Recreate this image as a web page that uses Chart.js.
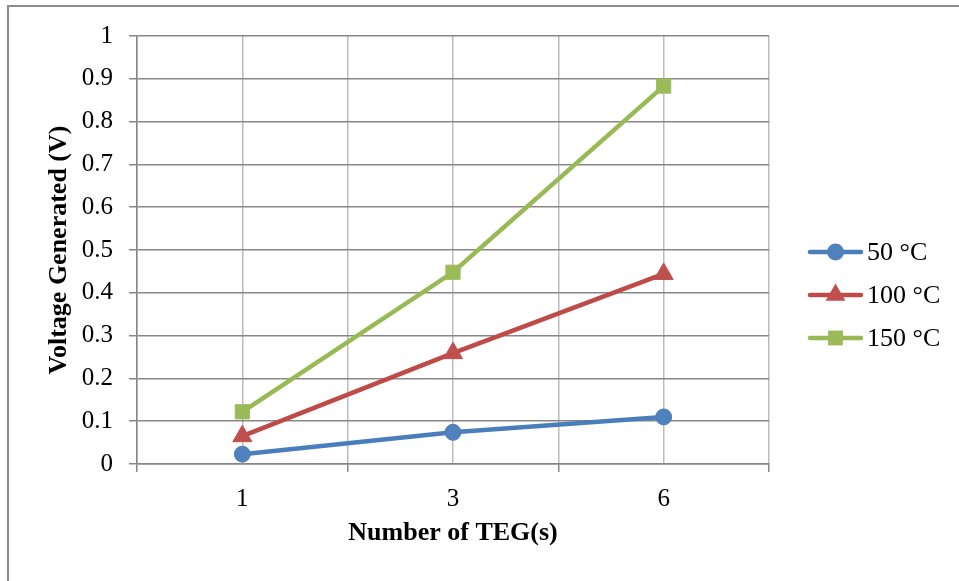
<!DOCTYPE html>
<html lang="en">
<head>
<meta charset="utf-8">
<title>Voltage Generated</title>
<style>
  body { margin: 0; background: #ffffff; }
  canvas { display: block; }
</style>
</head>
<body>
<canvas id="myChart" width="959" height="581"></canvas>

<script src="https://cdn.jsdelivr.net/npm/chart.js@4.4.0/dist/chart.umd.min.js"></script>
<script>
// categories on the x axis (number of TEGs)
var tegCounts = ['1', '3', '6'];

// series names and values (V)
var seriesNames = ['50 °C', '100 °C', '150 °C'];
var volts50 = [0.023, 0.074, 0.110];
var volts100 = [0.065, 0.259, 0.444];
var volts150 = [0.122, 0.448, 0.883];

// y axis ticks
var yMin = 0;
var yMax = 1;
var yStep = 0.1;

var lineColors = ['#4a7ebb', '#be4b48', '#98b954'];
var markerColors = ['#4f81bd', '#c0504d', '#9bbb59'];
var markerStyles = ['circle', 'triangle', 'rect'];
var markerSizes = [8, 11, 10];

var serif = '"Liberation Serif", "Times New Roman", serif';

function makeSet(i, values) {
    return {
        label: seriesNames[i],
        data: values,
        xAxisID: 'x',
        borderColor: lineColors[i],
        backgroundColor: markerColors[i],
        borderWidth: 4.5,
        pointStyle: markerStyles[i],
        pointRadius: markerSizes[i],
        pointBorderWidth: 1,
        pointBorderColor: markerColors[i],
        pointBackgroundColor: markerColors[i],
        tension: 0,
        order: 2 - i
    };
}

// draw a marker for the legend (same shapes as chart.js uses)
function drawMarker(ctx, style, r, x, y, color) {
    ctx.fillStyle = color;
    ctx.beginPath();
    if (style === 'circle') {
        ctx.arc(x, y, r, 0, Math.PI * 2);
    } else if (style === 'triangle') {
        ctx.moveTo(x, y - r);
        ctx.lineTo(x + r * 0.866, y + r * 0.5);
        ctx.lineTo(x - r * 0.866, y + r * 0.5);
        ctx.closePath();
    } else {
        var s = r * Math.SQRT1_2;
        ctx.rect(x - s, y - s, 2 * s, 2 * s);
    }
    ctx.fill();
}

const frameAndLegend = {
    id: 'frameAndLegend',
    beforeDraw(chart) {
        const ctx = chart.ctx;
        ctx.save();
        ctx.fillStyle = '#ffffff';
        ctx.fillRect(0, 0, chart.width, chart.height);
        ctx.strokeStyle = '#8c8c8c';
        ctx.lineWidth = 2;
        ctx.strokeRect(8, 6, 1200, 1200);
        ctx.restore();
    },
    afterDraw(chart) {
        const ctx = chart.ctx;
        ctx.save();
        for (var i = 0; i < seriesNames.length; i++) {
            var y = 252 + i * 43;
            ctx.strokeStyle = lineColors[i];
            ctx.lineWidth = 4.5;
            ctx.lineCap = 'round';
            ctx.beginPath();
            ctx.moveTo(810, y);
            ctx.lineTo(861, y);
            ctx.stroke();
            drawMarker(ctx, markerStyles[i], markerSizes[i] + 0.5, 835.5, y, markerColors[i]);
            ctx.fillStyle = '#000000';
            ctx.font = '26px ' + serif;
            ctx.textBaseline = 'middle';
            ctx.textAlign = 'left';
            ctx.fillText(seriesNames[i], 867, y + 1);
        }
        ctx.restore();
    }
};

const ctx = document.getElementById('myChart').getContext('2d');
const myChart = new Chart(ctx, {
    type: 'line',
    data: {
        labels: tegCounts,
        datasets: [
            makeSet(0, volts50),
            makeSet(1, volts100),
            makeSet(2, volts150)
        ]
    },
    plugins: [frameAndLegend],
    options: {
        responsive: false,
        animation: false,
        layout: {
            padding: { left: 0, top: 36, right: 190, bottom: 0 }
        },
        plugins: {
            legend: { display: false },
            tooltip: { enabled: false }
        },
        scales: {
            x: {
                type: 'category',
                position: 'bottom',
                offset: true,
                grid: {
                    offset: true,
                    color: '#bcbcbc',
                    lineWidth: 1.5,
                    tickLength: 8,
                    tickColor: '#868686',
                    tickWidth: 1.5
                },
                border: { color: '#868686', width: 1.5 },
                ticks: {
                    color: '#000000',
                    padding: 12,
                    font: { family: serif, size: 25 }
                },
                title: {
                    display: true,
                    text: 'Number of TEG(s)',
                    color: '#000000',
                    padding: { top: 0, bottom: 32 },
                    font: { family: serif, size: 26, weight: 'bold' }
                },
                afterFit: function (scale) { scale.height = 117; }
            },
            // second category axis, only for the grid lines through each category
            x2: {
                type: 'category',
                position: 'bottom',
                offset: true,
                grid: {
                    offset: false,
                    color: '#bcbcbc',
                    lineWidth: 1.5,
                    drawTicks: false
                },
                border: { display: false },
                ticks: { display: false },
                afterFit: function (scale) { scale.height = 0; }
            },
            y: {
                min: yMin,
                max: yMax,
                ticks: {
                    stepSize: yStep,
                    color: '#000000',
                    padding: 16,
                    font: { family: serif, size: 25 },
                    callback: function (value) {
                        return String(Math.round(value * 10) / 10);
                    }
                },
                grid: {
                    color: '#878787',
                    lineWidth: 1.5,
                    tickLength: 8
                },
                border: { color: '#868686', width: 1.5 },
                title: {
                    display: true,
                    text: 'Voltage Generated (V)',
                    color: '#000000',
                    padding: { top: 44, bottom: 0 },
                    font: { family: serif, size: 26, weight: 'bold' }
                },
                afterFit: function (scale) { scale.width = 137; }
            }
        }
    }
});
</script>
</body>
</html>
